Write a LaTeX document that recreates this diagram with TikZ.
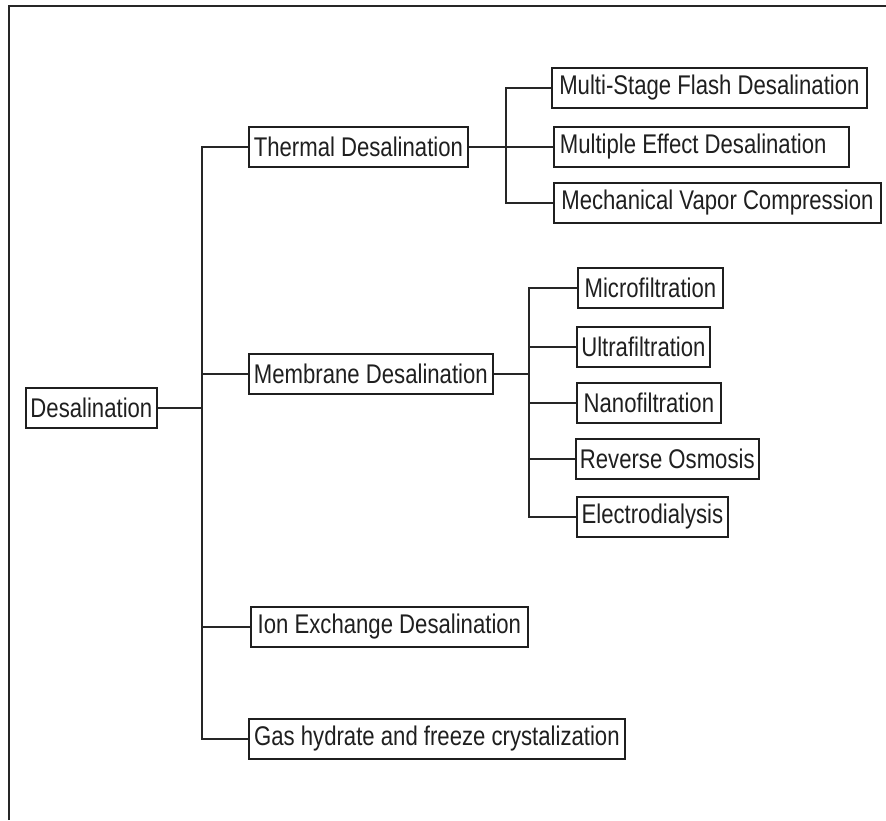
\documentclass[tikz,border=0pt]{standalone}
\usepackage{fontspec}
\setmainfont{Liberation Sans}[FakeStretch=0.82]
\begin{document}
\begin{tikzpicture}[x=1pt,y=-1pt,
  box/.style={draw=black!88, line width=1.8pt, fill=white, anchor=west,
    minimum height=40pt, inner xsep=4pt, inner ysep=0pt,
    font=\fontsize{27}{29}\selectfont, text=black!88},
  conn/.style={draw=black!85, line width=1.8pt}]
\useasboundingbox (0,0) rectangle (886,820);
% outer frame (top and left edges visible)
\draw[line width=2pt, black!85] (9,820) -- (9,6) -- (886,6);

\node[box, minimum width=131pt] (desal) at (25,408) {Desalination};
\node[box, minimum width=219pt] (thermal) at (248,147) {Thermal Desalination};
\node[box, minimum width=244pt] (membrane) at (248,374) {Membrane Desalination};
\node[box, minimum width=277pt] (ion) at (250,627) {Ion Exchange Desalination};
\node[box, minimum width=376pt] (gas) at (248,739) {Gas hydrate and freeze crystalization};

\node[box, minimum width=315pt] (msf) at (551,88) {Multi-Stage Flash Desalination};
\node[box, minimum width=295pt] (med) at (553,147) {\makebox[283pt][l]{Multiple Effect Desalination}};
\node[box, minimum width=327pt] (mvc) at (553,203) {Mechanical Vapor Compression};

\node[box, minimum width=145pt] (mf) at (577,288) {Microfiltration};
\node[box, minimum width=133pt] (uf) at (576,347) {Ultrafiltration};
\node[box, minimum width=144pt] (nf) at (576,403) {Nanofiltration};
\node[box, minimum width=182pt] (ro) at (575,459) {Reverse Osmosis};
\node[box, minimum width=151pt] (ed) at (576,517) {Electrodialysis};

\coordinate (trunk) at (202,0);
\coordinate (tbar) at (506,0);
\coordinate (mbar) at (529,0);

% main trunk
\draw[conn] (thermal.west) -- (thermal.west -| trunk) |- (gas.west);
\draw[conn] (desal.east) -- (desal.east -| trunk);
\draw[conn] (membrane.west) -- (membrane.west -| trunk);
\draw[conn] (ion.west) -- (ion.west -| trunk);

% thermal branch
\draw[conn] (msf.west) -- (msf.west -| tbar) |- (mvc.west);
\draw[conn] (thermal.east) -- (med.west);

% membrane branch
\draw[conn] (mf.west) -- (mf.west -| mbar) |- (ed.west);
\draw[conn] (membrane.east) -- (membrane.east -| mbar);
\draw[conn] (uf.west) -- (uf.west -| mbar);
\draw[conn] (nf.west) -- (nf.west -| mbar);
\draw[conn] (ro.west) -- (ro.west -| mbar);
\end{tikzpicture}
\end{document}
